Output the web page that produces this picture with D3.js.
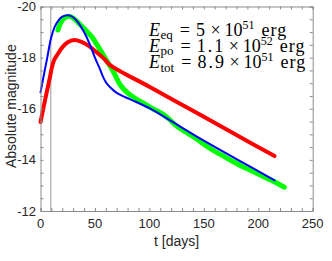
<!DOCTYPE html>
<html>
<head>
<meta charset="utf-8">
<script src="https://cdn.jsdelivr.net/npm/d3@7"></script>
<style>
body { margin: 0; background: #fff; }
</style>
</head>
<body>
<script>
var w = 332;
var h = 261;

// red curve
var tRed = [0, 4, 8, 12, 16, 20, 25, 31, 37, 44, 51, 58, 64, 100, 140, 180, 215];
var magRed = [-15.48, -16.3, -17.1, -17.85, -18.15, -18.4, -18.6, -18.69, -18.63, -18.47, -18.23, -17.97, -17.71, -16.86, -15.92, -14.97, -14.15];

// blue curve
var tBlue = [0, 3, 6, 9.6, 13, 16.4, 20, 25.5, 30, 35, 40, 45.5, 50, 54.6, 58, 61, 65, 70, 78, 85, 100, 116, 150, 180, 215];
var magBlue = [-16.64, -17.3, -17.95, -18.75, -19.2, -19.45, -19.6, -19.66, -19.58, -19.35, -19.0, -18.5, -18.0, -17.55, -17.2, -16.98, -16.8, -16.62, -16.45, -16.32, -16.02, -15.62, -14.75, -14.03, -13.2];

// green curve
var tGreen = [16, 19, 22, 26, 30, 35, 41, 47, 52, 57, 62, 67, 73, 80, 88, 96, 104, 112, 118, 124, 132, 142, 155, 170, 185, 200, 212, 224];
var magGreen = [-19.08, -19.4, -19.55, -19.62, -19.55, -19.35, -19.1, -18.82, -18.5, -18.15, -17.8, -17.45, -16.95, -16.62, -16.38, -16.18, -15.98, -15.8, -15.6, -15.36, -15.12, -14.86, -14.47, -14.1, -13.75, -13.45, -13.2, -12.93];

var xTicks = [0, 50, 100, 150, 200, 250];
var yTicks = [-20, -18, -16, -14, -12];
var tMarker = 9.5;

var x = d3.scaleLinear().domain([0, 250]).range([40.5, 312.7]);
var y = d3.scaleLinear().domain([-20, -12]).range([6.5, 211]);

var svg = d3.select("body")
            .append("svg")
                .attr("width", w)
                .attr("height", h);

var line = d3.line()
    .x(function(d) {return x(d[0]);})
    .y(function(d) {return y(d[1]);})
    .curve(d3.curveCatmullRom.alpha(0.5));

function pairs(ts, ms) {
    return ts.map(function(t, i) {return [t, ms[i]];});
}

// gray marker line
svg.append("line")
    .attr("x1", x(tMarker)).attr("x2", x(tMarker))
    .attr("y1", y(-20)).attr("y2", y(-12))
    .attr("stroke", "#999").attr("stroke-width", 1);

// curves
var curves = [
    {d: pairs(tGreen, magGreen), c: "#00ff00", sw: 5},
    {d: pairs(tRed, magRed), c: "#ff0000", sw: 4},
    {d: pairs(tBlue, magBlue), c: "#0000ff", sw: 2}
];
svg.selectAll("path.curve")
    .data(curves)
    .enter()
    .append("path")
        .attr("class", "curve")
        .attr("d", function(d) {return line(d.d);})
        .attr("fill", "none")
        .attr("stroke", function(d) {return d.c;})
        .attr("stroke-width", function(d) {return d.sw;})
        .attr("stroke-linecap", "round")
        .attr("stroke-linejoin", "round");

// axes box with inward ticks
var axisColor = "#8c8c8c";
var axB = d3.axisBottom(x).tickValues(d3.range(0, 251, 10)).tickSize(-3).tickFormat("");
var axT = d3.axisTop(x).tickValues(d3.range(0, 251, 10)).tickSize(-3).tickFormat("");
var axL = d3.axisLeft(y).tickValues(d3.range(-20, -11.9, 0.5)).tickSize(-3).tickFormat("");
var axR = d3.axisRight(y).tickValues(d3.range(-20, -11.9, 0.5)).tickSize(-3).tickFormat("");

function styleAxis(g) {
    g.selectAll("path, line").attr("stroke", axisColor);
}

svg.append("g").attr("transform", "translate(0," + y(-12) + ")").call(axB).call(styleAxis);
svg.append("g").attr("transform", "translate(0," + y(-20) + ")").call(axT).call(styleAxis);
svg.append("g").attr("transform", "translate(" + x(0) + ",0)").call(axL).call(styleAxis);
svg.append("g").attr("transform", "translate(" + x(250) + ",0)").call(axR).call(styleAxis);

// tick labels
svg.selectAll("text.xt")
    .data(xTicks)
    .enter()
    .append("text")
    .text(function(d) {return d;})
        .attr("x", function(d) {return x(d);})
        .attr("y", 228)
        .attr("text-anchor", "middle")
        .attr("font-family", "Liberation Sans, Arial, sans-serif")
        .attr("font-size", 13)
        .attr("fill", "#262626");

svg.selectAll("text.yt")
    .data(yTicks)
    .enter()
    .append("text")
    .text(function(d) {return d;})
        .attr("x", 36)
        .attr("y", function(d) {return y(d) + 4.5;})
        .attr("text-anchor", "end")
        .attr("font-family", "Liberation Sans, Arial, sans-serif")
        .attr("font-size", 13)
        .attr("fill", "#262626");

svg.append("text")
    .text("t [days]")
    .attr("x", (x(0) + x(250)) / 2)
    .attr("y", 246)
    .attr("text-anchor", "middle")
    .attr("font-family", "Liberation Sans, Arial, sans-serif")
    .attr("font-size", 14)
    .attr("fill", "#262626");

svg.append("text")
    .text("Absolute magnitude")
    .attr("transform", "translate(15.5," + y(-16.1) + ") rotate(-90)")
    .attr("text-anchor", "middle")
    .attr("font-family", "Liberation Sans, Arial, sans-serif")
    .attr("font-size", 14)
    .attr("fill", "#262626");

// energy annotation
var labels = [
    {sub: "eq", val: "5", exp: "51"},
    {sub: "po", val: "1.1", exp: "52"},
    {sub: "tot", val: "8.9", exp: "51"}
];
labels.forEach(function(l, i) {
    var t = svg.append("text")
        .attr("x", 149)
        .attr("y", 35.5 + i * 16.3)
        .attr("font-family", "Liberation Serif, Times New Roman, serif")
        .attr("font-size", 18)
        .attr("fill", "#000");
    t.append("tspan").attr("font-style", "italic").text("E");
    t.append("tspan").attr("font-size", 13).attr("dy", 3.5).attr("dx", 0.5).text(l.sub);
    t.append("tspan").attr("dy", -3.5).attr("dx", 7).text("=");
    t.append("tspan").attr("dx", 6).attr("letter-spacing", 2).text(l.val);
    t.append("tspan").attr("dx", 3.5).text("\u00d7");
    t.append("tspan").attr("dx", 4).text("10");
    t.append("tspan").attr("font-size", 12).attr("dy", -7).text(l.exp);
    t.append("tspan").attr("dy", 7).attr("dx", 7).attr("letter-spacing", 1).text("erg");
});
</script>
</body>
</html>
